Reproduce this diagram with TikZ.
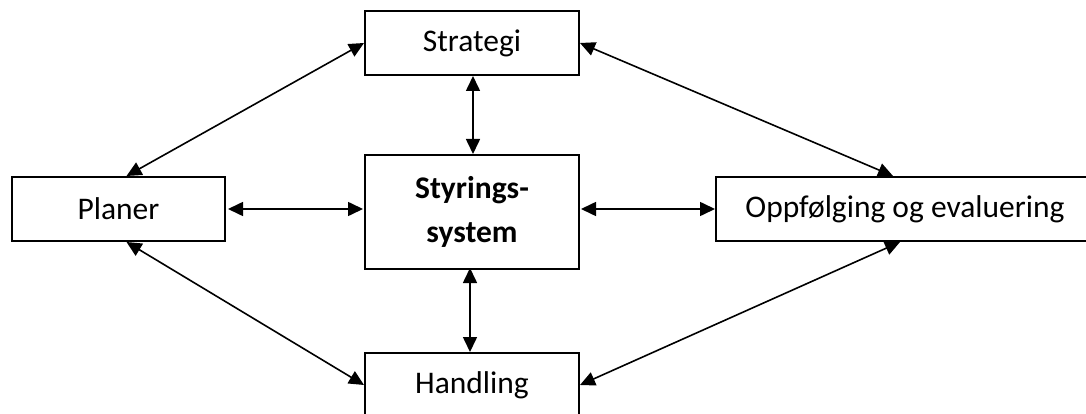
\documentclass[tikz,border=0pt]{standalone}
\usepackage{fontspec}
\setmainfont{Carlito}
\usetikzlibrary{arrows.meta}
\begin{document}
\begin{tikzpicture}[x=1pt,y=-1pt,
  box/.style={draw=black, line width=2pt, fill=white, inner sep=0pt, align=center,
    font=\fontsize{31.5}{44}\selectfont},
  conn/.style={line width=1.6pt, {Triangle[length=15pt,width=14pt]}-{Triangle[length=15pt,width=14pt]}}]
\useasboundingbox (0,0) rectangle (1086,414);
\node[box, minimum width=214pt, minimum height=64pt] (strat) at (472,43) {Strategi};
\node[box, minimum width=213pt, minimum height=64pt] (plan) at (118.5,209) {Planer};
\node[box, minimum width=214pt, minimum height=114pt] (ctr) at (472,212) {\bfseries Styrings-\\\bfseries system};
\node[box, minimum width=378pt, minimum height=64pt] (opp) at (905,209) {Oppfølging og evaluering};
\node[box, minimum width=214pt, minimum height=64pt] (hand) at (472,385) {Handling};
\draw[conn] (strat.west) -- ([xshift=8pt]plan.north);
\draw[conn] (strat.east) -- ([xshift=-12pt]opp.north);
\draw[conn] ([xshift=8pt]plan.south) -- (hand.west);
\draw[conn] ([xshift=-5pt]opp.south) -- (hand.east);
\draw[conn] ([xshift=2pt]plan.east) -- ([xshift=-1pt]plan.east -| ctr.west);
\draw[conn] ([xshift=1pt]plan.east -| ctr.east) -- (opp.west);
\draw[conn] ([xshift=1pt]strat.south) -- ([xshift=1pt]ctr.north);
\draw[conn] ([xshift=-2pt,yshift=2pt]ctr.south) -- ([xshift=-2pt]hand.north);
\end{tikzpicture}
\end{document}
